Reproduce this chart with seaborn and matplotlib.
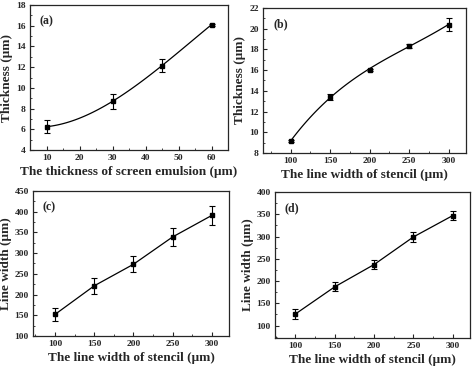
import numpy as np
import pandas as pd
import matplotlib
matplotlib.use("Agg")
import matplotlib.pyplot as plt
from matplotlib.ticker import AutoMinorLocator, MultipleLocator
import seaborn as sns

# data
emulsion = [10, 30, 45, 60]
thick_a = [6.25, 8.7, 12.15, 16.1]
err_a = [0.65, 0.7, 0.6, 0.1]

stencil = [100, 150, 200, 250, 300]
thick_b = [9.15, 13.4, 16.05, 18.35, 20.4]
err_b = [0.1, 0.25, 0.1, 0.2, 0.6]

width_c = [152, 221, 273, 339, 391]
err_c = [15, 19, 19, 22, 23]

width_d = [126, 187, 237, 299, 347]
err_d = [11, 10, 10, 11, 10]

sns.set_style("ticks")
plt.rcParams['font.family'] = ['Liberation Serif', 'DejaVu Serif']
plt.rcParams['font.weight'] = 'bold'
plt.rcParams['axes.labelweight'] = 'bold'
plt.rcParams['xtick.direction'] = 'in'
plt.rcParams['ytick.direction'] = 'in'

W, H = 474, 369
fig = plt.figure(figsize=(W / 100, H / 100), dpi=100)


def make_ax(l, r, t, b):
    return fig.add_axes([l / W, 1 - b / H, (r - l) / W, (b - t) / H])


def style(ax, tag, xlab, ylab, xlim, ylim, xstep, ystep):
    ax.set_xlim(*xlim)
    ax.set_ylim(*ylim)
    ax.xaxis.set_major_locator(MultipleLocator(xstep))
    ax.yaxis.set_major_locator(MultipleLocator(ystep))
    ax.xaxis.set_minor_locator(AutoMinorLocator(2))
    ax.yaxis.set_minor_locator(AutoMinorLocator(2))
    ax.tick_params(which='major', length=3, width=0.8, labelsize=6.8, pad=3)
    ax.tick_params(which='minor', length=1.5, width=0.6)
    for lab in ax.get_xticklabels() + ax.get_yticklabels():
        lab.set_fontweight('bold')
    for s in ax.spines.values():
        s.set_linewidth(0.9)
    ax.set_xlabel(xlab, fontsize=9.5, labelpad=3)
    ax.set_ylabel(ylab, fontsize=9.5, labelpad=2)
    ax.text(0.05, 0.93, tag, transform=ax.transAxes, fontsize=8.5,
            fontweight='bold', va='top')


def draw(ax, x, y, e, order=None):
    df = pd.DataFrame({'x': x, 'y': y})
    if order:
        sns.regplot(data=df, x='x', y='y', order=order, ci=None, scatter=False,
                    ax=ax, line_kws={'color': 'black', 'lw': 0.9},
                    truncate=True)
    else:
        sns.lineplot(data=df, x='x', y='y', ax=ax, color='black', lw=0.9)
    ax.errorbar(x, y, yerr=e, fmt='s', ms=3, color='black', ecolor='black',
                elinewidth=0.8, capsize=2, capthick=0.8)


ax_a = make_ax(30, 228, 5, 150)
draw(ax_a, emulsion, thick_a, err_a, order=3)
style(ax_a, '(a)', 'The thickness of screen emulsion (μm)', 'Thickness (μm)',
      (5, 65), (4, 18), 10, 2)

ax_b = make_ax(263, 466, 8, 153)
draw(ax_b, stencil, thick_b, err_b, order=3)
style(ax_b, '(b)', 'The line width of stencil (μm)', 'Thickness (μm)',
      (65, 322), (8, 22), 50, 2)

ax_c = make_ax(33, 229, 191, 336)
draw(ax_c, stencil, width_c, err_c)
style(ax_c, '(c)', 'The line width of stencil (μm)', 'Line width (μm)',
      (72, 322), (100, 450), 50, 50)

ax_d = make_ax(275, 470, 192, 338)
draw(ax_d, stencil, width_d, err_d)
style(ax_d, '(d)', 'The line width of stencil (μm)', 'Line width (μm)',
      (74, 322), (72, 400), 50, 50)

fig.savefig('out.png', dpi=100)
